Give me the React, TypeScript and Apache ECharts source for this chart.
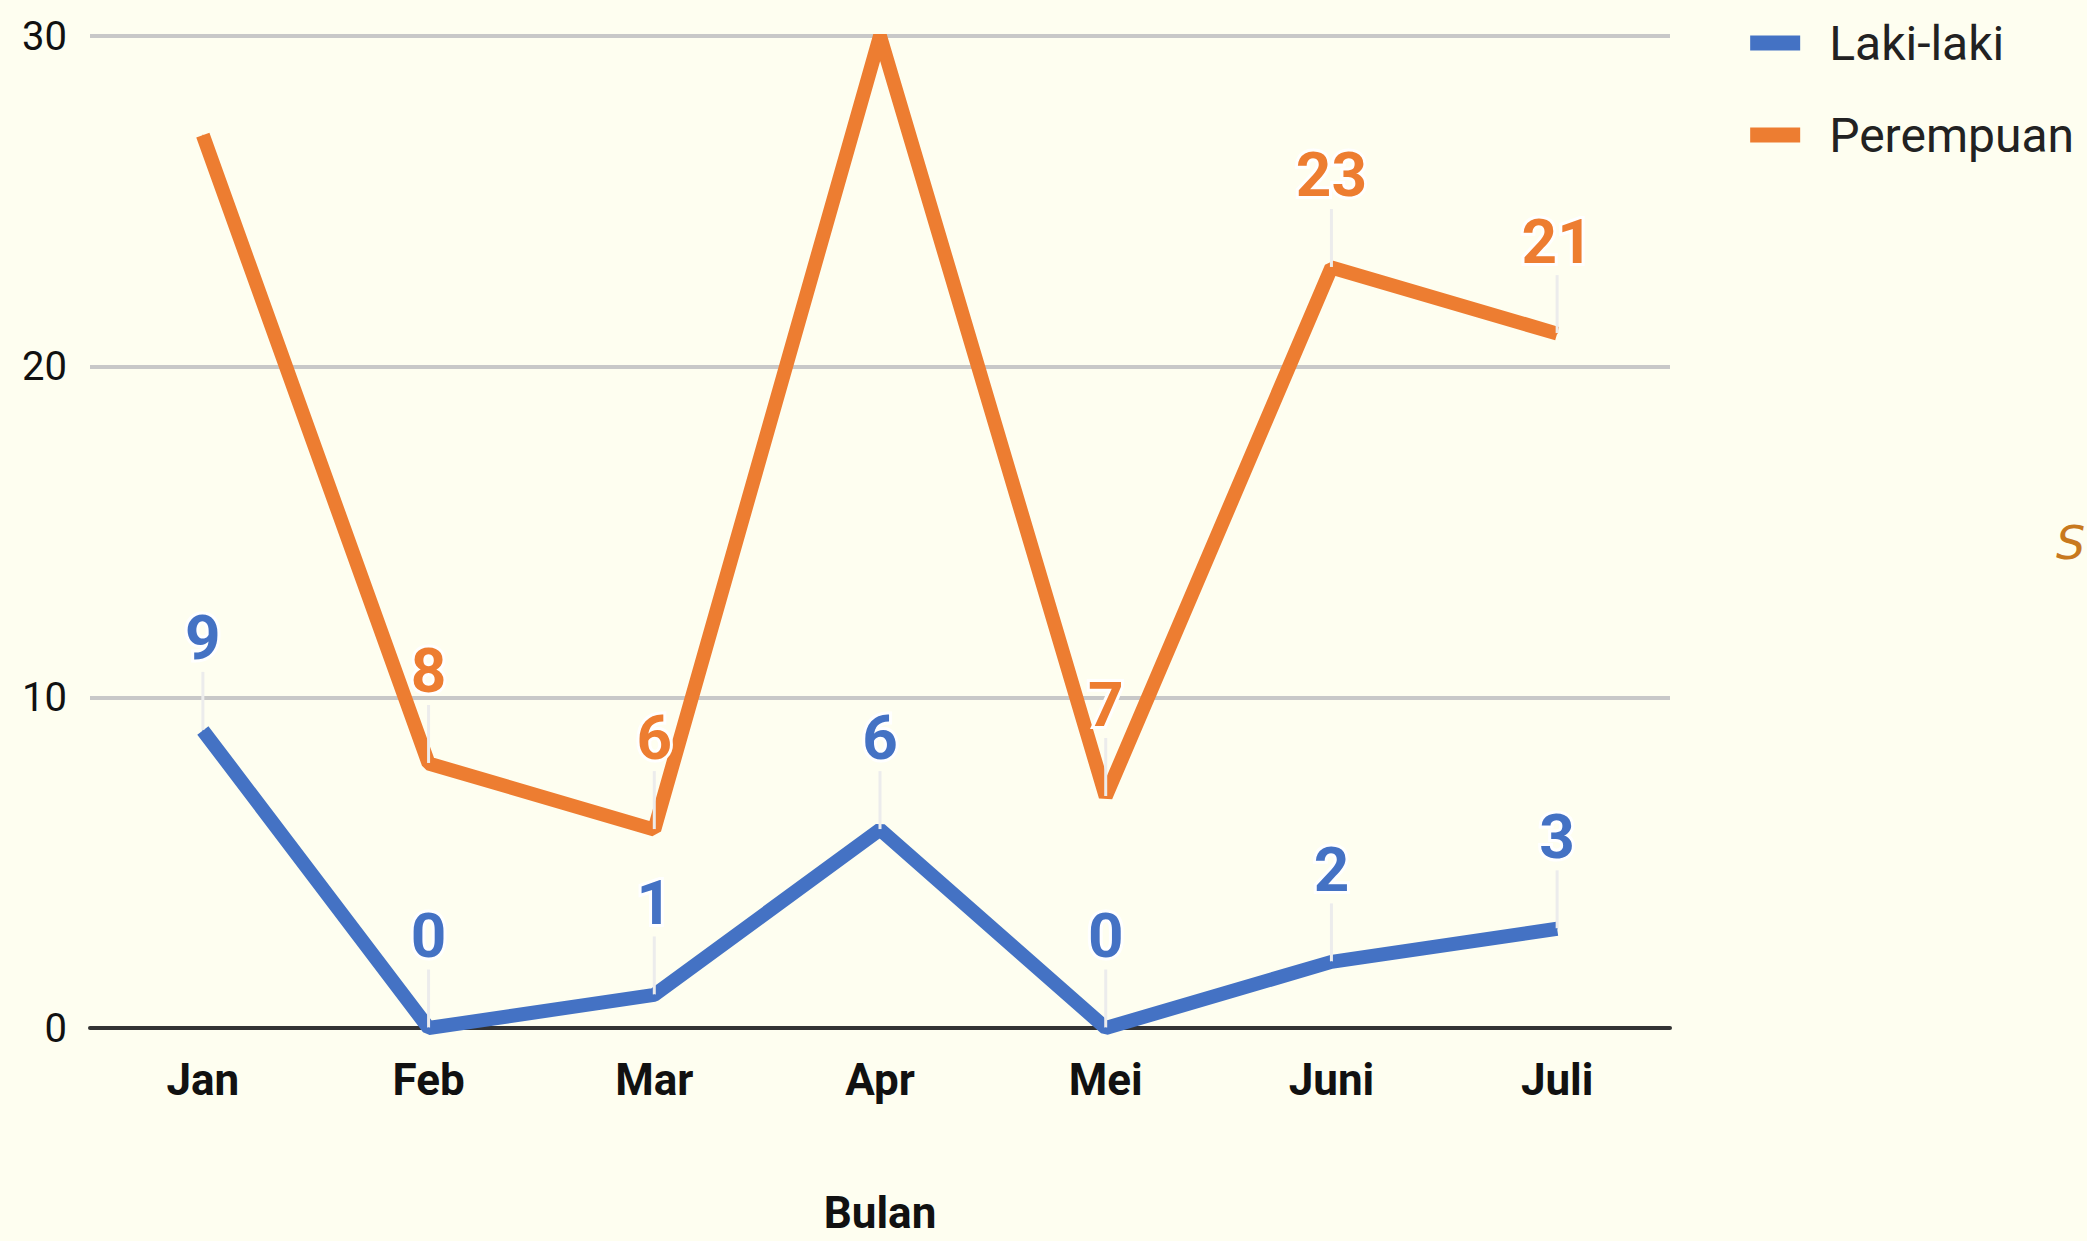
import React, { useEffect, useRef } from "react";
import * as echarts from "echarts";

const categories = ["Jan", "Feb", "Mar", "Apr", "Mei", "Juni", "Juli"];
const lakiLaki = [9, 0, 1, 6, 0, 2, 3];
const perempuan = [27, 8, 6, 30, 7, 23, 21];
const perempuanHiddenLabels = [0, 3];
const yTicks = { min: 0, max: 30, interval: 10 };

const BLUE = "#4472c4";
const ORANGE = "#ed7d31";
const FONT = "Roboto";

export default function App() {
  const ref = useRef<HTMLDivElement>(null);
  useEffect(() => {
    if (!ref.current) return;
    const chart = echarts.init(ref.current, undefined, { renderer: "svg" });
    const mkLabel = (color: string) => ({
      show: true,
      position: "top",
      fontFamily: FONT,
      fontSize: 62,
      fontWeight: "bold",
      color,
      textBorderColor: "#ffffff",
      textBorderWidth: 6,
    });
    const labelLine = { show: true, lineStyle: { color: "#ececec", width: 3 } };
    chart.setOption({
      animation: false,
      backgroundColor: "#fefef0",
      textStyle: { fontFamily: FONT },
      grid: { left: 90, right: 417, top: 36, bottom: 213, outerBoundsMode: "none", containLabel: false },
      legend: {
        right: 8,
        top: 14,
        orient: "vertical",
        icon: "rect",
        itemWidth: 50,
        itemHeight: 15,
        itemGap: 44,
        textStyle: { fontFamily: FONT, fontSize: 48, color: "#222", padding: [0, 0, 0, 24] },
        data: ["Laki-laki", "Perempuan"],
      },
      xAxis: {
        type: "category",
        data: categories,
        boundaryGap: true,
        name: "Bulan",
        nameLocation: "middle",
        nameGap: 163,
        nameTextStyle: { fontFamily: FONT, fontSize: 44, lineHeight: 44, fontWeight: "bold", color: "#111" },
        axisLine: { lineStyle: { color: "#333", width: 4 } },
        axisTick: { show: false },
        axisLabel: { fontFamily: FONT, fontSize: 44, fontWeight: "bold", color: "#111", margin: 30 },
      },
      yAxis: {
        type: "value",
        min: yTicks.min,
        max: yTicks.max,
        interval: yTicks.interval,
        axisLine: { show: false },
        axisTick: { show: false },
        axisLabel: { fontFamily: FONT, fontSize: 40, color: "#111", margin: 23 },
        splitLine: { lineStyle: { color: "#c8c8c8", width: 4 } },
      },
      series: [
        {
          name: "Laki-laki",
          type: "line",
          data: lakiLaki,
          color: BLUE,
          symbol: "circle",
          symbolSize: 1,
          lineStyle: { color: BLUE, width: 14 },
          itemStyle: { color: BLUE },
          label: mkLabel(BLUE),
          labelLayout: { dy: -56 },
          labelLine,
          clip: true,
        },
        {
          name: "Perempuan",
          type: "line",
          data: perempuan.map((v, i) =>
            perempuanHiddenLabels.includes(i)
              ? { value: v, label: { show: false }, labelLine: { show: false } }
              : v
          ),
          color: ORANGE,
          symbol: "circle",
          symbolSize: 1,
          lineStyle: { color: ORANGE, width: 14 },
          itemStyle: { color: ORANGE },
          label: mkLabel(ORANGE),
          labelLayout: { dy: -56 },
          labelLine,
          clip: true,
        },
      ],
      graphic: [
        {
          type: "text",
          x: 2056,
          y: 520,
          style: { text: "S", fontFamily: "DejaVu Sans", fontStyle: "italic", fontSize: 46, fill: "#c8791e" },
        },
      ],
    });
    return () => chart.dispose();
  }, []);
  return (
    <div
      ref={ref}
      style={{ position: "fixed", left: 0, top: 0, width: 2087, height: 1241 }}
    />
  );
}
